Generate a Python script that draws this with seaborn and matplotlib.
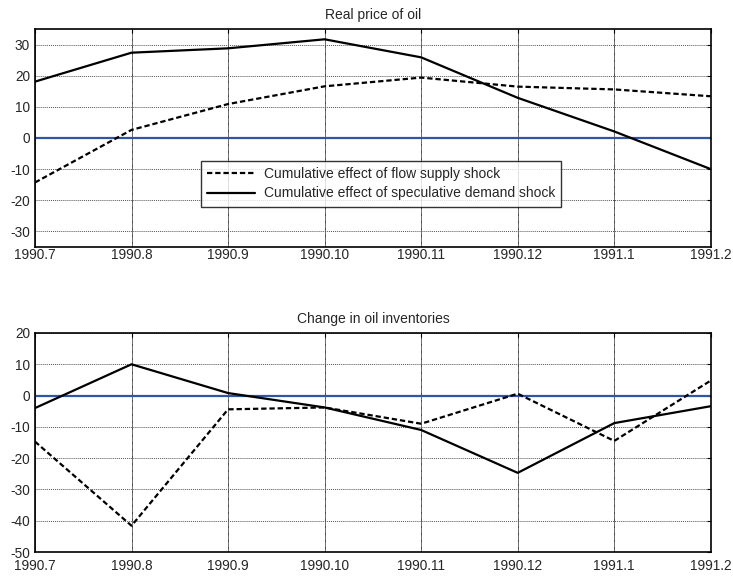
import matplotlib
matplotlib.use("Agg")
import matplotlib.pyplot as plt
import seaborn as sns
import pandas as pd
import numpy as np

months = ["1990.7", "1990.8", "1990.9", "1990.10", "1990.11", "1990.12", "1991.1", "1991.2"]
price_flow = [-14.3, 2.6, 10.9, 16.6, 19.4, 16.5, 15.6, 13.4]
price_spec = [18.1, 27.4, 28.8, 31.7, 25.9, 12.9, 2.1, -10.0]
inv_flow = [-14.7, -41.6, -4.4, -3.8, -9.0, 0.6, -14.5, 4.8]
inv_spec = [-4.0, 10.0, 0.8, -3.8, -11.0, -24.7, -8.8, -3.4]
lab_flow = "Cumulative effect of flow supply shock"
lab_spec = "Cumulative effect of speculative demand shock"

sns.set_style("white")
plt.rcParams['font.family'] = ['Liberation Sans', 'DejaVu Sans']
plt.rcParams['axes.unicode_minus'] = False

fig = plt.figure(figsize=(7.33, 5.77), dpi=100)
ax1 = fig.add_axes([0.0477, 0.572, 0.922, 0.3777])
ax2 = fig.add_axes([0.0477, 0.0433, 0.922, 0.3796])

idx = np.arange(len(months))

def panel(ax, flow, spec, title, ylim, yticks, legend, xpad):
    df = pd.DataFrame({"x": np.concatenate([idx, idx]),
                       "y": flow + spec,
                       "s": [lab_flow] * len(idx) + [lab_spec] * len(idx)})
    sns.lineplot(data=df, x="x", y="y", hue="s", style="s",
                 palette={lab_flow: "black", lab_spec: "black"},
                 dashes={lab_flow: (2.4, 1.3), lab_spec: ""},
                 linewidth=1.6, ax=ax, legend=legend)
    ax.axhline(0, color="#2f55a4", linewidth=1.6, zorder=1)
    ax.set_xlim(0, len(idx) - 1)
    ax.set_ylim(*ylim)
    ax.set_xticks(idx)
    ax.set_xticklabels(months)
    ax.set_yticks(yticks)
    ax.set_xlabel("")
    ax.set_ylabel("")
    ax.set_title(title, fontsize=10, pad=7)
    ax.grid(True, axis="x", color="black", linestyle=(0, (1, 0.4)), linewidth=0.6)
    ax.grid(True, axis="y", color="#555555", linestyle=(0, (1, 1)), linewidth=0.7)
    ax.set_axisbelow(True)
    ax.tick_params(axis="both", direction="in", length=3, width=0.8, labelsize=9.8,
                   top=True, right=True, color="black")
    ax.tick_params(axis="x", pad=xpad)
    ax.tick_params(axis="y", pad=3.5)
    for sp in ax.spines.values():
        sp.set_color("black")
        sp.set_linewidth(1.2)

panel(ax1, price_flow, price_spec, "Real price of oil", (-35, 35),
      [-30, -20, -10, 0, 10, 20, 30], True, 1.0)
panel(ax2, inv_flow, inv_spec, "Change in oil inventories", (-50, 20),
      [-50, -40, -30, -20, -10, 0, 10, 20], False, 5.0)

leg = ax1.legend(loc="upper left", bbox_to_anchor=(0.245, 0.396), fontsize=10,
                 frameon=True, fancybox=False, edgecolor="black",
                 handlelength=3.5, borderpad=0.45, labelspacing=0.4,
                 handletextpad=0.6, borderaxespad=0)
leg.get_frame().set_linewidth(1.0)

fig.savefig("out.png", dpi=100)
